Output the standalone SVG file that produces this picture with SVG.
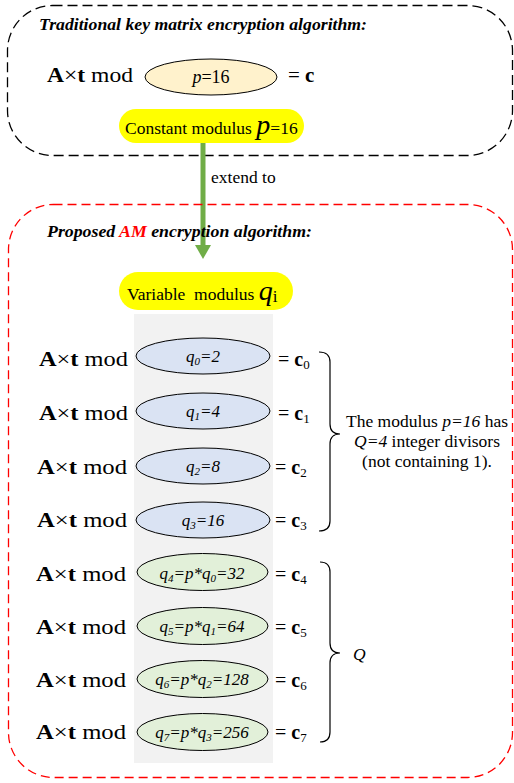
<svg xmlns="http://www.w3.org/2000/svg" width="514" height="783" viewBox="0 0 514 783">
<style>
.title{font-size:17px;font-weight:bold;font-style:italic}
.lbl{font-size:17.5px}
.eq{font-size:20px}
.b{font-weight:bold}
.it{font-style:italic}
.ell{stroke:#000;stroke-width:1}
.blue{fill:#DAE3F3}
.green{fill:#E2F0D9}
.q{font-size:17px;font-style:italic;text-anchor:middle}
.sub{font-size:11px}
.csub{font-size:13px;font-weight:normal}
.brace{fill:none;stroke:#000;stroke-width:1.2}
</style>

<g id="traditional-box">
<rect x="7.5" y="5.5" width="505" height="150" rx="45" ry="45" fill="none" stroke="#000" stroke-width="1.3" stroke-dasharray="10,5"/>
<text font-family="Liberation Serif" class="title" x="39" y="30" textLength="328" lengthAdjust="spacingAndGlyphs">Traditional key matrix encryption algorithm:</text>
</g>

<g id="traditional-eq">
<text font-family="Liberation Serif" x="47" y="82" font-size="21" textLength="86" lengthAdjust="spacingAndGlyphs"><tspan class="b">A</tspan>×<tspan class="b">t</tspan> mod</text>
<ellipse class="ell" cx="211" cy="77" rx="66" ry="18" fill="#FFF2CC"/>
<text font-family="Liberation Serif" x="211" y="83" font-size="18" text-anchor="middle"><tspan class="it">p</tspan>=16</text>
<text font-family="Liberation Serif" x="288" y="82" font-size="21">= <tspan class="b">c</tspan></text>
</g>

<g id="constant-modulus">
<rect x="119" y="109" width="185" height="34" rx="17" fill="#FFFF00"/>
<text font-family="Liberation Serif" class="lbl" x="125" y="134">Constant modulus <tspan class="it" font-size="28">p</tspan>=16</text>
</g>

<g id="connectors">
<line x1="203" y1="143" x2="203" y2="246" stroke="#70AD47" stroke-width="5"/>
<path d="M195,245 L211,245 L203,259 Z" fill="#70AD47"/>
<text font-family="Liberation Serif" class="lbl" x="211" y="183">extend to</text>
</g>

<g id="proposed-box">
<rect x="8.5" y="204.5" width="504" height="573" rx="45" ry="45" fill="none" stroke="#FF0000" stroke-width="1.3" stroke-dasharray="9,5"/>
<text font-family="Liberation Serif" class="title" x="47" y="237" textLength="265" lengthAdjust="spacingAndGlyphs">Proposed <tspan fill="#FF0000">AM</tspan> encryption algorithm:</text>
</g>

<g id="variable-modulus">
<rect x="119" y="272" width="174" height="38" rx="19" fill="#FFFF00"/>
<text font-family="Liberation Serif" class="lbl" x="127" y="300" xml:space="preserve">Variable  modulus <tspan class="it" font-size="28">q</tspan><tspan font-size="17" dy="2">i</tspan></text>
</g>

<g id="gray-column">
<rect x="134" y="314" width="139" height="449" fill="#F2F2F2"/>
</g>

<g id="row0">
<text font-family="Liberation Serif" class="eq" x="39" y="366" textLength="89" lengthAdjust="spacingAndGlyphs"><tspan class="b">A</tspan>×<tspan class="b">t</tspan> mod</text>
<ellipse class="ell blue" cx="203" cy="356" rx="67" ry="18"/>
<text font-family="Liberation Serif" class="q" x="203" y="362">q<tspan class="sub" dy="3">0</tspan><tspan dy="-3">=2</tspan></text>
<text font-family="Liberation Serif" class="eq" x="278" y="366">= <tspan class="b">c</tspan><tspan class="csub" dy="3">0</tspan></text>
</g>
<g id="row1">
<text font-family="Liberation Serif" class="eq" x="39" y="420" textLength="89" lengthAdjust="spacingAndGlyphs"><tspan class="b">A</tspan>×<tspan class="b">t</tspan> mod</text>
<ellipse class="ell blue" cx="203" cy="411" rx="67" ry="18"/>
<text font-family="Liberation Serif" class="q" x="203" y="417">q<tspan class="sub" dy="3">1</tspan><tspan dy="-3">=4</tspan></text>
<text font-family="Liberation Serif" class="eq" x="278" y="420">= <tspan class="b">c</tspan><tspan class="csub" dy="3">1</tspan></text>
</g>
<g id="row2">
<text font-family="Liberation Serif" class="eq" x="37" y="474" textLength="90" lengthAdjust="spacingAndGlyphs"><tspan class="b">A</tspan>×<tspan class="b">t</tspan> mod</text>
<ellipse class="ell blue" cx="203" cy="466" rx="67" ry="18"/>
<text font-family="Liberation Serif" class="q" x="203" y="472">q<tspan class="sub" dy="3">2</tspan><tspan dy="-3">=8</tspan></text>
<text font-family="Liberation Serif" class="eq" x="275" y="474">= <tspan class="b">c</tspan><tspan class="csub" dy="3">2</tspan></text>
</g>
<g id="row3">
<text font-family="Liberation Serif" class="eq" x="37" y="527" textLength="90" lengthAdjust="spacingAndGlyphs"><tspan class="b">A</tspan>×<tspan class="b">t</tspan> mod</text>
<ellipse class="ell blue" cx="203" cy="520" rx="67" ry="18"/>
<text font-family="Liberation Serif" class="q" x="203" y="526">q<tspan class="sub" dy="3">3</tspan><tspan dy="-3">=16</tspan></text>
<text font-family="Liberation Serif" class="eq" x="275" y="527">= <tspan class="b">c</tspan><tspan class="csub" dy="3">3</tspan></text>
</g>

<g id="row4">
<text font-family="Liberation Serif" class="eq" x="36" y="581" textLength="90" lengthAdjust="spacingAndGlyphs"><tspan class="b">A</tspan>×<tspan class="b">t</tspan> mod</text>
<ellipse class="ell green" cx="202.5" cy="572" rx="65.5" ry="18.5"/>
<text font-family="Liberation Serif" class="q" x="202" y="579">q<tspan class="sub" dy="3">4</tspan><tspan dy="-3">=p*q</tspan><tspan class="sub" dy="3">0</tspan><tspan dy="-3">=32</tspan></text>
<text font-family="Liberation Serif" class="eq" x="275" y="581">= <tspan class="b">c</tspan><tspan class="csub" dy="3">4</tspan></text>
</g>
<g id="row5">
<text font-family="Liberation Serif" class="eq" x="36" y="634" textLength="90" lengthAdjust="spacingAndGlyphs"><tspan class="b">A</tspan>×<tspan class="b">t</tspan> mod</text>
<ellipse class="ell green" cx="202.5" cy="626" rx="65.5" ry="18.5"/>
<text font-family="Liberation Serif" class="q" x="202" y="632">q<tspan class="sub" dy="3">5</tspan><tspan dy="-3">=p*q</tspan><tspan class="sub" dy="3">1</tspan><tspan dy="-3">=64</tspan></text>
<text font-family="Liberation Serif" class="eq" x="275" y="634">= <tspan class="b">c</tspan><tspan class="csub" dy="3">5</tspan></text>
</g>
<g id="row6">
<text font-family="Liberation Serif" class="eq" x="36" y="687" textLength="90" lengthAdjust="spacingAndGlyphs"><tspan class="b">A</tspan>×<tspan class="b">t</tspan> mod</text>
<ellipse class="ell green" cx="202.5" cy="679" rx="65.5" ry="18.5"/>
<text font-family="Liberation Serif" class="q" x="202" y="685">q<tspan class="sub" dy="3">6</tspan><tspan dy="-3">=p*q</tspan><tspan class="sub" dy="3">2</tspan><tspan dy="-3">=128</tspan></text>
<text font-family="Liberation Serif" class="eq" x="275" y="687">= <tspan class="b">c</tspan><tspan class="csub" dy="3">6</tspan></text>
</g>
<g id="row7">
<text font-family="Liberation Serif" class="eq" x="36" y="739" textLength="90" lengthAdjust="spacingAndGlyphs"><tspan class="b">A</tspan>×<tspan class="b">t</tspan> mod</text>
<ellipse class="ell green" cx="202.5" cy="732" rx="65.5" ry="18.5"/>
<text font-family="Liberation Serif" class="q" x="202" y="738">q<tspan class="sub" dy="3">7</tspan><tspan dy="-3">=p*q</tspan><tspan class="sub" dy="3">3</tspan><tspan dy="-3">=256</tspan></text>
<text font-family="Liberation Serif" class="eq" x="275" y="739">= <tspan class="b">c</tspan><tspan class="csub" dy="3">7</tspan></text>
</g>

<g id="brace-divisors">
<path class="brace" d="M319,352 Q330,352 330,362 L330,424 Q330,434 340,434 Q330,434 330,444 L330,521 Q330,531 319,531"/>
<text font-family="Liberation Serif" class="lbl" x="427" y="427" text-anchor="middle">The modulus <tspan class="it">p=16</tspan> has</text>
<text font-family="Liberation Serif" class="lbl" x="427" y="447" text-anchor="middle"><tspan class="it">Q=4</tspan> integer divisors</text>
<text font-family="Liberation Serif" class="lbl" x="427" y="467" text-anchor="middle">(not containing 1).</text>
</g>

<g id="brace-Q">
<path class="brace" d="M320,562 Q330,562 330,572 L330,643 Q330,653 340,653 Q330,653 330,663 L330,732 Q330,742 320,742"/>
<text font-family="Liberation Serif" class="lbl it" x="353" y="660">Q</text>
</g>
</svg>
